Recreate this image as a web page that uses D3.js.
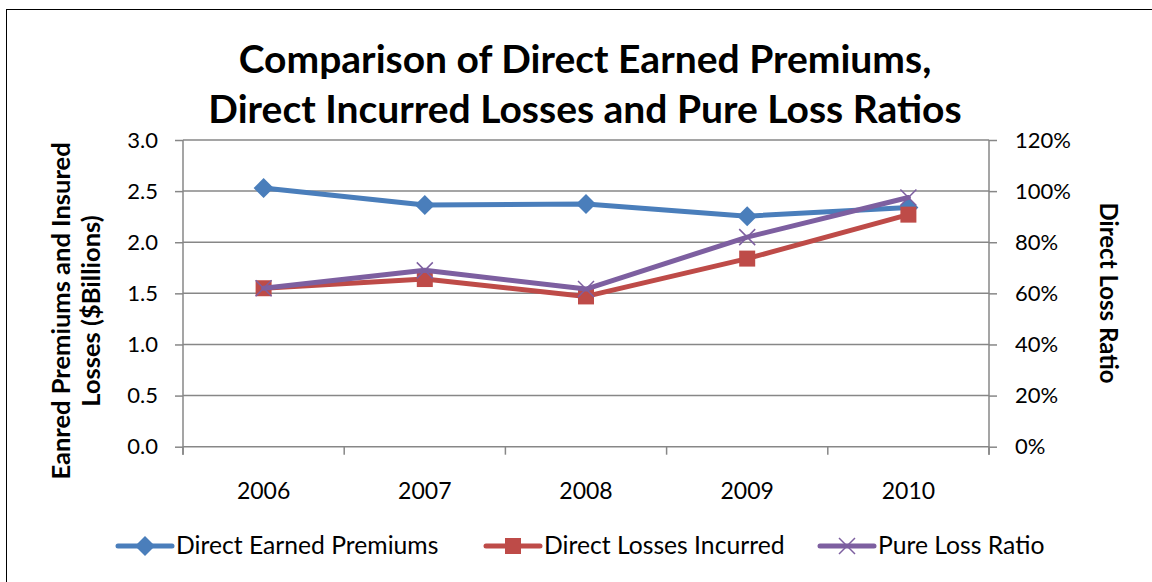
<!DOCTYPE html>
<html><head><meta charset="utf-8">
<script src="https://cdn.jsdelivr.net/npm/d3@7"></script>
<style>body{margin:0;background:#fff}svg{display:block}text{font-family:Lato,"Open Sans",sans-serif}</style>
</head><body>
<svg id="c" width="1152" height="582"></svg>
<script>
const years = ["2006","2007","2008","2009","2010"];
const premiums = [2.53, 2.365, 2.375, 2.255, 2.34];
const losses = [1.55, 1.64, 1.47, 1.84, 2.27];
const lossRatio = [0.62, 0.69, 0.617, 0.82, 0.975];
const leftTicks = [0,0.5,1,1.5,2,2.5,3];
const rightTicks = [0,0.2,0.4,0.6,0.8,1.0,1.2];
const titleLines = ["Comparison of Direct Earned Premiums,","Direct Incurred Losses and Pure Loss Ratios"];
const leftTitle = ["Eanred Premiums and Insured","Losses ($Billions)"];
const rightTitle = "Direct Loss Ratio";
const seriesNames = ["Direct Earned Premiums","Direct Losses Incurred","Pure Loss Ratio"];
const colors = ["#4a7ebb","#be4b48","#7d5fa0"];

const svg = d3.select("#c");
svg.append("rect").attr("x",6.5).attr("y",9.5).attr("width",1150).attr("height",580).attr("fill","none").attr("stroke","#000").attr("stroke-width",1);

const L=183, R=989, T=140, B=446.7;
const x = d3.scaleBand().domain(years).range([L,R]);
const yL = d3.scaleLinear().domain([0,3]).range([B,T]);
const yR = d3.scaleLinear().domain([0,1.2]).range([B,T]);
const grid="#878787";

// gridlines
svg.append("g").selectAll("line").data(leftTicks.slice(1)).join("line")
  .attr("x1",L).attr("x2",R).attr("y1",d=>yL(d)).attr("y2",d=>yL(d)).attr("stroke",grid).attr("stroke-width",1.5);

// x axis
svg.append("line").attr("x1",L).attr("x2",R).attr("y1",B).attr("y2",B).attr("stroke",grid).attr("stroke-width",1.5);
const bounds = years.map(d=>x(d)).concat([R]);
svg.append("g").selectAll("line").data(bounds).join("line").attr("x1",d=>d).attr("x2",d=>d).attr("y1",B).attr("y2",B+8).attr("stroke",grid).attr("stroke-width",1.5);
svg.append("g").selectAll("text").data(years).join("text").attr("x",d=>x(d)+x.bandwidth()/2).attr("y",B+52).attr("text-anchor","middle").attr("font-size",23).attr("fill","#000").text(d=>d);

const gl = svg.append("g").attr("transform",`translate(${L},0)`).call(d3.axisLeft(yL).tickValues(leftTicks).tickSize(8).tickPadding(17).tickFormat(d3.format(".1f")));
const gr = svg.append("g").attr("transform",`translate(${R},0)`).call(d3.axisRight(yR).tickValues(rightTicks).tickSize(8).tickPadding(18).tickFormat(d3.format(".0%")));
[gl,gr].forEach(g=>{
  g.select(".domain").attr("stroke",grid).attr("stroke-width",1.5).attr("d",`M0,${T}V${B+8}`);
  g.selectAll(".tick line").attr("stroke",grid).attr("stroke-width",1.5);
  g.selectAll(".tick text").attr("font-size",22).attr("fill","#000").attr("font-family","Lato,'Open Sans',sans-serif");
});

// lines
const lineL = d3.line().x((d,i)=>x(years[i])+x.bandwidth()/2).y(d=>yL(d));
const lineR = d3.line().x((d,i)=>x(years[i])+x.bandwidth()/2).y(d=>yR(d));
const diamond = "M0,-10L10,0L0,10L-10,0Z";
function drawSeries(vals, lineFn, yS, color, marker){
  svg.append("path").attr("d",lineFn(vals)).attr("fill","none").attr("stroke",color).attr("stroke-width",5).attr("stroke-linejoin","round").attr("stroke-linecap","round");
  const g = svg.append("g");
  vals.forEach((v,i)=>{
    addMarker(g,x(years[i])+x.bandwidth()/2,yS(v),color,marker);
  });
}
function addMarker(g,cx,cy,color,marker){
  if(marker==="diamond") g.append("path").attr("d",diamond).attr("transform",`translate(${cx},${cy})`).attr("fill",color);
  else if(marker==="square") g.append("rect").attr("x",cx-8).attr("y",cy-8).attr("width",16).attr("height",16).attr("fill",color);
  else g.append("path").attr("d","M-8,-8L8,8M-8,8L8,-8").attr("transform",`translate(${cx},${cy})`).attr("stroke",color).attr("stroke-width",1.5);
}
drawSeries(premiums,lineL,yL,colors[0],"diamond");
drawSeries(losses,lineL,yL,colors[1],"square");
drawSeries(lossRatio,lineR,yR,colors[2],"x");

// titles
svg.append("g").selectAll("text").data(titleLines).join("text").attr("x",585).attr("y",(d,i)=>73+i*50).attr("text-anchor","middle").attr("font-size",39).attr("font-weight","bold").attr("fill","#000").text(d=>d);
svg.append("g").selectAll("text").data(leftTitle).join("text")
  .attr("transform",(d,i)=>`translate(${70+i*30},${311}) rotate(-90)`).attr("text-anchor","middle").attr("font-size",25.5).attr("font-weight","bold").attr("fill","#000").text(d=>d);
svg.append("text").attr("transform",`translate(1100,293) rotate(90)`).attr("text-anchor","middle").attr("font-size",24).attr("font-weight","bold").attr("fill","#000").text(rightTitle);

// legend
const legX = [118,486,820];
const lg = svg.append("g");
seriesNames.forEach((n,i)=>{
  const lx=legX[i], ly=546;
  lg.append("line").attr("x1",lx).attr("x2",lx+54).attr("y1",ly).attr("y2",ly).attr("stroke",colors[i]).attr("stroke-width",5).attr("stroke-linecap","round");
  addMarker(lg,lx+27,ly,colors[i],["diamond","square","x"][i]);
  lg.append("text").attr("x",lx+58).attr("y",ly+8).attr("font-size",24.7).attr("fill","#000").text(n);
});
</script>
</body></html>
